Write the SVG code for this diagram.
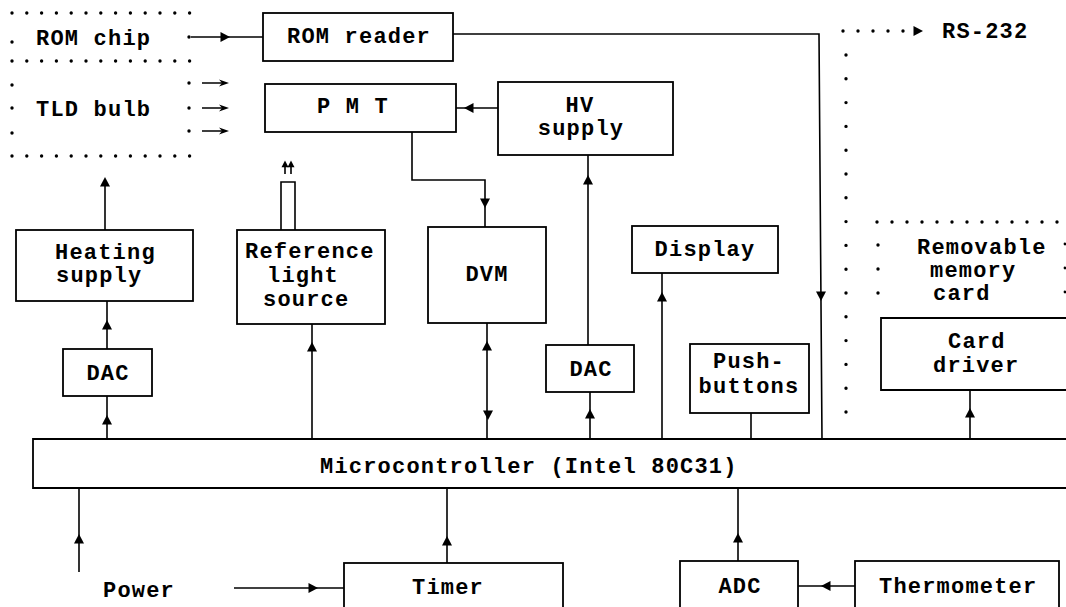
<svg xmlns="http://www.w3.org/2000/svg" xmlns:xlink="http://www.w3.org/1999/xlink" width="1066" height="607" viewBox="0 0 1066 607">
  <style>
    .box { fill: none; stroke: #000; stroke-width: 1.8; }
    .wire { fill: none; stroke: #000; stroke-width: 1.6; }
    .dots { fill: none; stroke: #000; stroke-width: 3.4; stroke-linecap: round; }
    .dot { fill: #000; }
    text { font-family: "Courier New", "Liberation Mono", monospace; font-weight: bold; font-size: 22px; letter-spacing: 1.2px; fill: #000; }
    .c { text-anchor: middle; }
  </style>
  <defs>
    <!-- filled arrowhead pointing along +x, drawn centred on its anchor -->
    <path id="ah" d="M5,0 L-4.5,-5 L-4.5,5 Z" fill="#000"/>
    <!-- slender head for the light rays -->
    <path id="ray" d="M0,0 L-10,-3.6 L-7,0 L-10,3.6 Z" fill="#000"/>
  </defs>

  <rect width="1066" height="607" fill="#fff"/>

  <!-- dotted outline: ROM chip / TLD bulb -->
  <g id="tld-area">
    <path class="dots" d="M12,13 H190 M12,61 H190 M12,156 H190" stroke-dasharray="0 14.8"/>
    <circle class="dot" cx="12" cy="42" r="1.7"/>
    <circle class="dot" cx="12" cy="85" r="1.7"/>
    <circle class="dot" cx="12" cy="108" r="1.7"/>
    <circle class="dot" cx="12" cy="133" r="1.7"/>
    <circle class="dot" cx="189" cy="37" r="1.7"/>
    <circle class="dot" cx="189" cy="83" r="1.7"/>
    <circle class="dot" cx="189" cy="108" r="1.7"/>
    <circle class="dot" cx="189" cy="131" r="1.7"/>
    <text x="36" y="45">ROM chip</text>
    <text x="36" y="116">TLD bulb</text>
  </g>

  <!-- dotted RS-232 link and its vertical run -->
  <g id="rs232">
    <path class="dots" d="M843,31 H905" stroke-dasharray="0 15"/>
    <path class="dots" d="M846,55 V413" stroke-dasharray="0 23.8"/>
    <use xlink:href="#ah" transform="translate(918,31)"/>
    <text x="942" y="38">RS-232</text>
  </g>

  <!-- dotted outline: removable memory card -->
  <g id="memory-card">
    <path class="dots" d="M877,222 H1066" stroke-dasharray="0 15"/>
    <circle class="dot" cx="878" cy="245" r="1.7"/>
    <circle class="dot" cx="878" cy="269" r="1.7"/>
    <circle class="dot" cx="878" cy="293" r="1.7"/>
    <circle class="dot" cx="1065" cy="244" r="1.4"/>
    <circle class="dot" cx="1065" cy="268" r="1.4"/>
    <circle class="dot" cx="1065" cy="292" r="1.4"/>
    <text x="917" y="254">Removable</text>
    <text x="930" y="277">memory</text>
    <text x="933" y="300">card</text>
  </g>

  <g id="rom-reader">
    <rect class="box" x="263" y="13" width="190" height="48"/>
    <text class="c" x="359" y="43">ROM reader</text>
  </g>

  <g id="pmt">
    <rect class="box" x="265" y="84" width="191" height="48"/>
    <text x="317" y="113">P M T</text>
  </g>

  <g id="hv-supply">
    <rect class="box" x="498" y="82" width="175" height="73"/>
    <text class="c" x="580" y="112">HV</text>
    <text class="c" x="581" y="135">supply</text>
  </g>

  <g id="heating-supply">
    <rect class="box" x="16" y="230" width="177" height="71"/>
    <text x="55" y="259">Heating</text>
    <text x="56" y="282">supply</text>
  </g>

  <g id="reference-light">
    <rect class="box" x="237" y="230" width="148" height="94"/>
    <text x="245" y="258">Reference</text>
    <text x="267" y="282">light</text>
    <text x="263" y="306">source</text>
    <!-- light pipe with outgoing rays -->
    <path class="wire" d="M281,230 V182 H295 V230"/>
    <path class="wire" d="M285,174 V164 M291,174 V164" stroke-width="1.4"/>
    <use xlink:href="#ah" transform="translate(285,164) rotate(-90) scale(0.7)"/>
    <use xlink:href="#ah" transform="translate(291,164) rotate(-90) scale(0.7)"/>
  </g>

  <g id="dvm">
    <rect class="box" x="428" y="227" width="118" height="96"/>
    <text class="c" x="487" y="281">DVM</text>
  </g>

  <g id="display">
    <rect class="box" x="632" y="226" width="146" height="47"/>
    <text class="c" x="705" y="256">Display</text>
  </g>

  <g id="dac-heating">
    <rect class="box" x="63" y="349" width="89" height="47"/>
    <text class="c" x="108" y="380">DAC</text>
  </g>

  <g id="dac-hv">
    <rect class="box" x="546" y="345" width="88" height="47"/>
    <text class="c" x="591" y="376">DAC</text>
  </g>

  <g id="pushbuttons">
    <rect class="box" x="690" y="344" width="119" height="69"/>
    <text class="c" x="749" y="368">Push-</text>
    <text class="c" x="749" y="393">buttons</text>
  </g>

  <g id="card-driver">
    <path class="box" d="M1070,318 H881 V390 H1070"/>
    <text x="948" y="348">Card</text>
    <text x="933" y="372">driver</text>
  </g>

  <g id="microcontroller">
    <path class="box" d="M1070,439 H33 V488 H1070"/>
    <text x="320" y="473">Microcontroller (Intel 80C31)</text>
  </g>

  <g id="power">
    <text x="103" y="597">Power</text>
  </g>

  <g id="timer">
    <rect class="box" x="344" y="563" width="219" height="50"/>
    <text class="c" x="448" y="594">Timer</text>
  </g>

  <g id="adc">
    <rect class="box" x="680" y="561" width="118" height="52"/>
    <text class="c" x="740" y="593">ADC</text>
  </g>

  <g id="thermometer">
    <rect class="box" x="855" y="561" width="204" height="52"/>
    <text x="879" y="593">Thermometer</text>
  </g>

  <g id="connectors">
    <!-- ROM chip to ROM reader -->
    <path class="wire" d="M191,37 H263"/>
    <use xlink:href="#ah" transform="translate(225,37)"/>
    <!-- light from TLD bulb to PMT -->
    <path class="wire" d="M202,83 H224 M202,108 H224 M202,131 H224" stroke-width="1.5"/>
    <use xlink:href="#ray" transform="translate(229,83)"/>
    <use xlink:href="#ray" transform="translate(229,108)"/>
    <use xlink:href="#ray" transform="translate(229,131)"/>
    <!-- ROM reader down to microcontroller -->
    <path class="wire" d="M453,34 H819 L822,439"/>
    <use xlink:href="#ah" transform="translate(821,296) rotate(90)"/>
    <!-- HV supply to PMT -->
    <path class="wire" d="M498,108 H456"/>
    <use xlink:href="#ah" transform="translate(469,108) rotate(180)"/>
    <!-- DAC to HV supply -->
    <path class="wire" d="M588,345 V155"/>
    <use xlink:href="#ah" transform="translate(588,180) rotate(-90)"/>
    <!-- PMT to DVM -->
    <path class="wire" d="M412,132 V180 H485 V227"/>
    <use xlink:href="#ah" transform="translate(485,203) rotate(90)"/>
    <!-- DVM to/from microcontroller -->
    <path class="wire" d="M487,323 V439"/>
    <use xlink:href="#ah" transform="translate(487,346) rotate(-90)"/>
    <use xlink:href="#ah" transform="translate(488,415) rotate(90)"/>
    <!-- microcontroller to HV DAC -->
    <path class="wire" d="M590,392 V439"/>
    <use xlink:href="#ah" transform="translate(590,414) rotate(-90)"/>
    <!-- microcontroller to display -->
    <path class="wire" d="M662,439 V273"/>
    <use xlink:href="#ah" transform="translate(662,297) rotate(-90)"/>
    <!-- pushbuttons to microcontroller -->
    <path class="wire" d="M751,413 V439"/>
    <!-- microcontroller to card driver -->
    <path class="wire" d="M970,439 V390"/>
    <use xlink:href="#ah" transform="translate(970,413) rotate(-90)"/>
    <!-- microcontroller to heating DAC -->
    <path class="wire" d="M107,439 V396"/>
    <use xlink:href="#ah" transform="translate(107,420) rotate(-90)"/>
    <!-- heating DAC to heating supply -->
    <path class="wire" d="M107,349 V301"/>
    <use xlink:href="#ah" transform="translate(107,325) rotate(-90)"/>
    <!-- heating supply to TLD bulb -->
    <path class="wire" d="M105,230 V184"/>
    <use xlink:href="#ah" transform="translate(105,182) rotate(-90)"/>
    <!-- microcontroller to reference light source -->
    <path class="wire" d="M312,439 V324"/>
    <use xlink:href="#ah" transform="translate(312,347) rotate(-90)"/>
    <!-- power to microcontroller -->
    <path class="wire" d="M79,572 V488"/>
    <use xlink:href="#ah" transform="translate(79,539) rotate(-90)"/>
    <!-- power to timer -->
    <path class="wire" d="M234,588 H344"/>
    <use xlink:href="#ah" transform="translate(313,588)"/>
    <!-- timer to microcontroller -->
    <path class="wire" d="M447,563 V488"/>
    <use xlink:href="#ah" transform="translate(447,541) rotate(-90)"/>
    <!-- ADC to microcontroller -->
    <path class="wire" d="M738,561 V488"/>
    <use xlink:href="#ah" transform="translate(738,538) rotate(-90)"/>
    <!-- thermometer to ADC -->
    <path class="wire" d="M855,586 H798"/>
    <use xlink:href="#ah" transform="translate(826,586) rotate(180)"/>
  </g>
</svg>
